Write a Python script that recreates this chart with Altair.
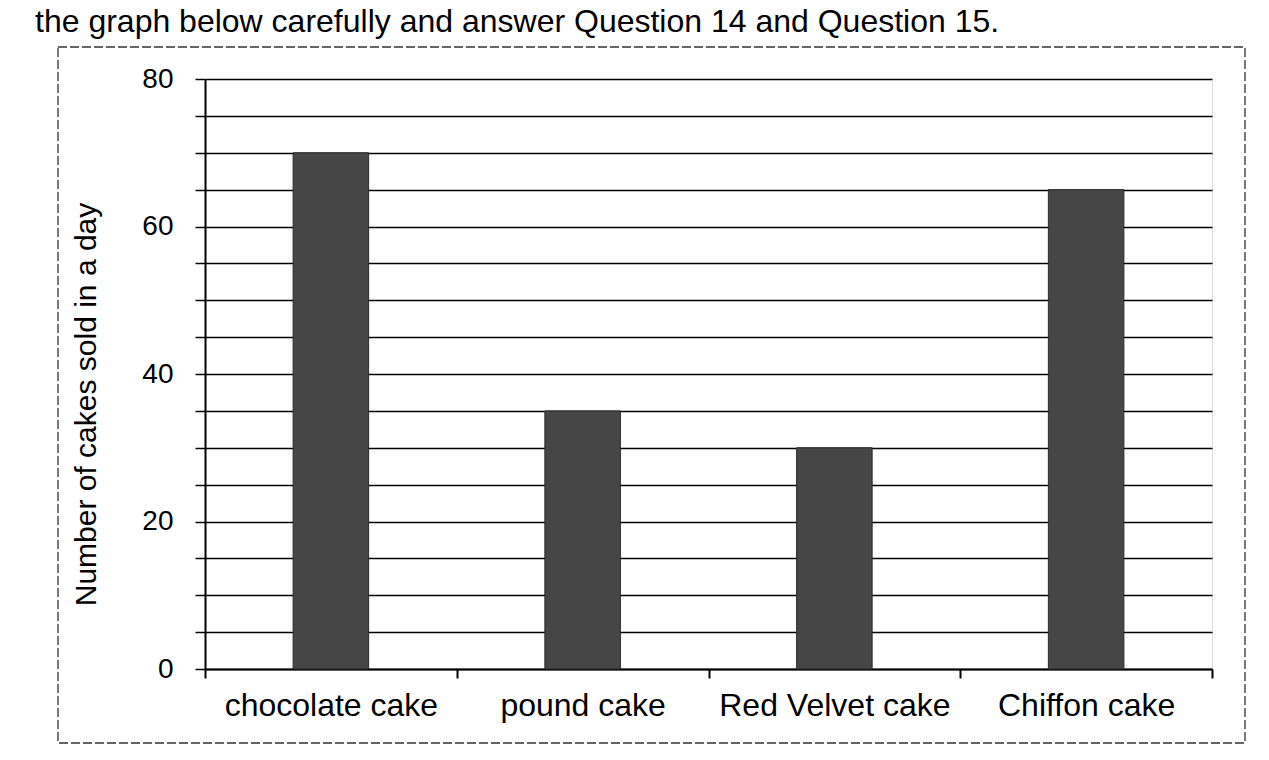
import altair as alt
import pandas as pd

categories = ["chocolate cake", "pound cake", "Red Velvet cake", "Chiffon cake"]
cakes_sold = [70, 35, 30, 65]
y_ticks = list(range(0, 85, 5))
header_text = "the graph below carefully and answer Question 14 and Question 15."
y_title = "Number of cakes sold in a day"

df = pd.DataFrame({"cake": categories, "sold": cakes_sold})

FONT = "Liberation Sans"

bars = alt.Chart(df).mark_bar(
    width={"band": 0.3}, color="#464646", stroke="#2a2a2a", strokeWidth=1
).encode(
    x=alt.X(
        "cake:N",
        sort=categories,
        scale=alt.Scale(paddingInner=0, paddingOuter=0),
        axis=alt.Axis(
            title=None,
            labelAngle=0,
            labelFontSize=32,
            labelFont=FONT,
            labelColor="black",
            labelPadding=12,
            labelLimit=0,
            tickBand="extent",
            tickSize=9,
            tickWidth=2,
            tickColor="black",
            domainColor="black",
            domainWidth=2,
            grid=False,
        ),
    ),
    y=alt.Y(
        "sold:Q",
        scale=alt.Scale(domain=[0, 80], nice=False),
        axis=alt.Axis(
            title=y_title,
            titleFont=FONT,
            titleFontSize=30,
            titleFontWeight="normal",
            titleColor="black",
            titleBaseline="alphabetic",
            titleX=-110,
            titleY=325,
            values=y_ticks,
            labelExpr="datum.value % 20 === 0 ? datum.label : ''",
            labelFontSize=28,
            labelFont=FONT,
            labelColor="black",
            labelPadding=22,
            tickSize=10,
            tickWidth=1.5,
            tickColor="black",
            domainColor="black",
            domainWidth=2,
            grid=True,
            gridColor="black",
            gridWidth=1.6,
        ),
    ),
)

border = alt.Chart(alt.Data(values=[{"b": 1}])).mark_rect(
    fill="transparent", stroke="#333333", strokeWidth=1.3, strokeDash=[9, 3]
).encode(
    x=alt.value(-147),
    x2=alt.value(1040),
    y=alt.value(-32),
    y2=alt.value(664),
)

chart = alt.layer(bars, border).properties(
    width=1007,
    height=590,
    padding={"left": 197, "top": 71, "right": 45, "bottom": 80},
    autosize="none",
    title=alt.TitleParams(
        text=header_text,
        anchor="start",
        frame="group",
        font=FONT,
        fontSize=32,
        fontWeight="normal",
        color="black",
        baseline="alphabetic",
        dx=-170,
        dy=18,
        offset=0,
    ),
).configure_view(stroke="transparent").configure(background="white")

chart.save("out.html", embed_options={"renderer": "svg", "actions": False})
